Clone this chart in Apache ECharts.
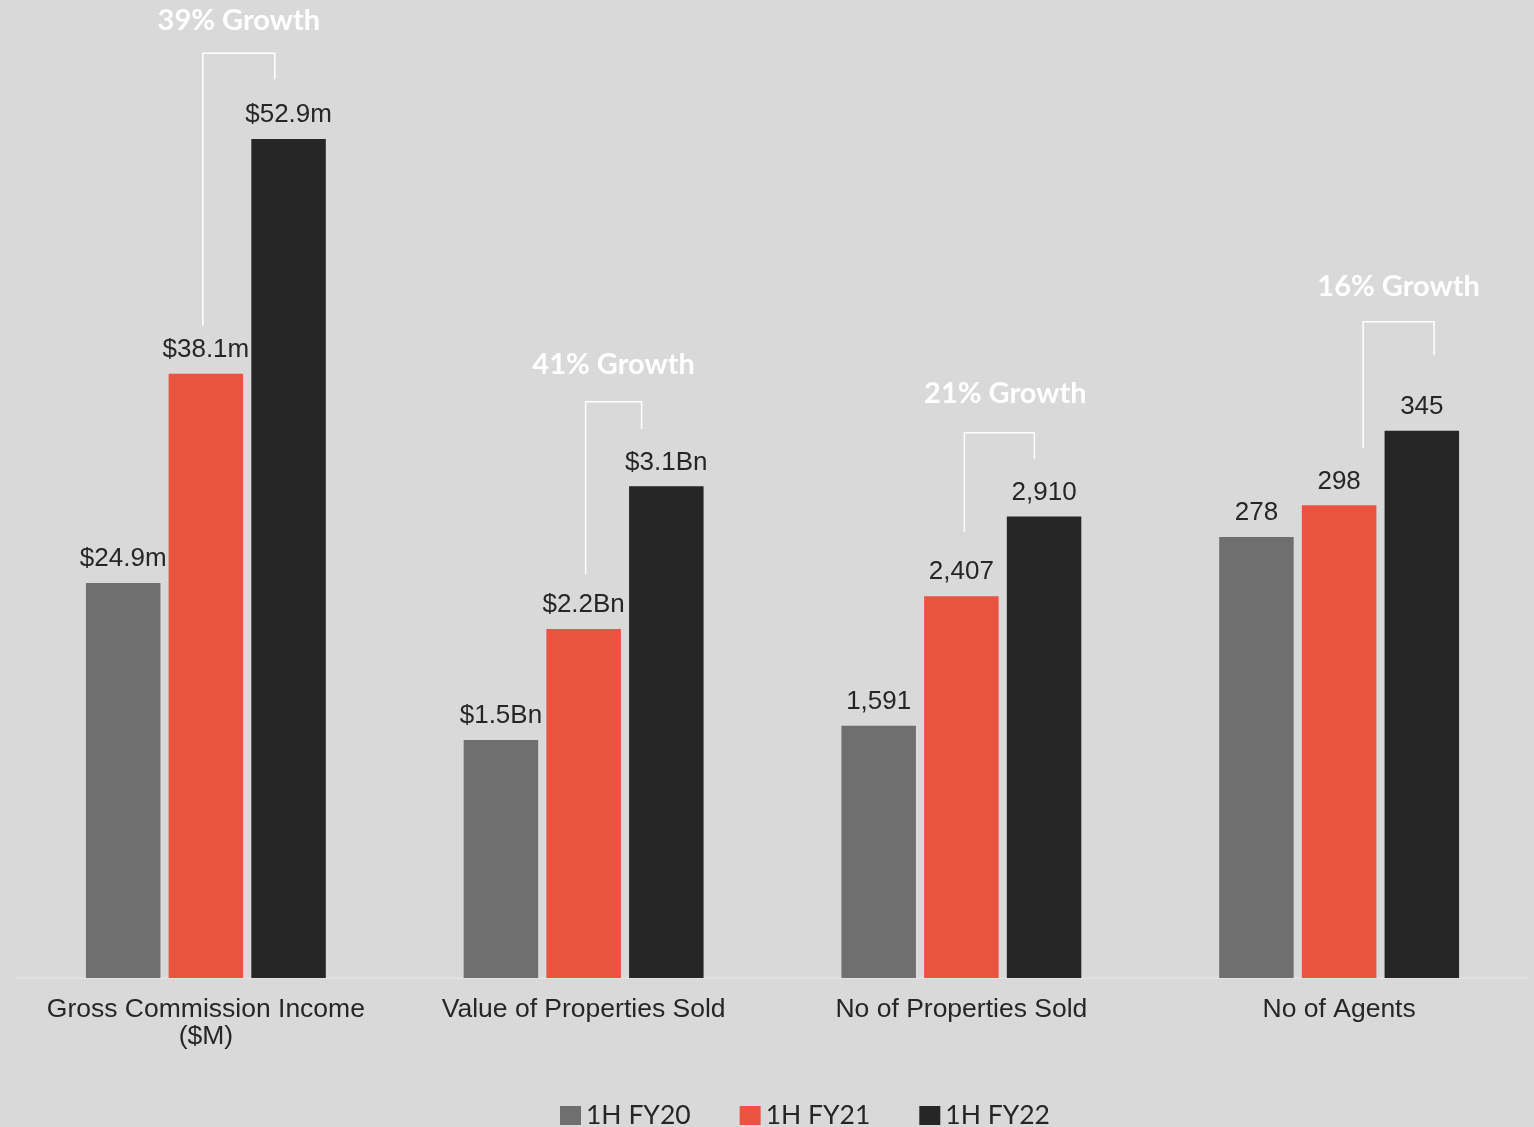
<!DOCTYPE html>
<html>
<head>
<meta charset="utf-8">
<script src="https://cdn.jsdelivr.net/npm/echarts@6/dist/echarts.min.js"></script>
<style>
html,body{margin:0;padding:0;background:#d9d9d9;}
#chart{width:1534px;height:1127px;}
</style>
</head>
<body>
<div id="chart"></div>
<script>
// ---- data ----
var categories = ['Gross Commission Income\n($M)', 'Value of Properties Sold', 'No of Properties Sold', 'No of Agents'];
var seriesNames = ['1H FY20', '1H FY21', '1H FY22'];
var fy20 = [24.9, 1.5, 1591, 278];
var fy21 = [38.1, 2.2, 2407, 298];
var fy22 = [52.9, 3.1, 2910, 345];
var fy20Labels = ['$24.9m', '$1.5Bn', '1,591', '278'];
var fy21Labels = ['$38.1m', '$2.2Bn', '2,407', '298'];
var fy22Labels = ['$52.9m', '$3.1Bn', '2,910', '345'];
// each category is drawn on a shared scale after this unit multiplier
var unitScale = [1, 10, 0.01, 0.1];
var growthLabels = ['39% Growth', '41% Growth', '21% Growth', '16% Growth'];
// bracket levels, in shared-scale units
var bracketTop = [58.3, 36.34, 34.38, 41.38];
var bracketLeftEnd = [41.13, 25.45, 28.14, 33.40];
var bracketRightEnd = [56.66, 34.62, 32.71, 39.26];

// ---- layout / style (not data) ----
var bracketLeftDx = [-3, 2, 3, 24];
var bracketRightDx = [69, 58, 73, 95];
var growthTextDx = [0, 0, 6, 0];
var growthTextDy = [-33, -37, -39, -35];
var colors = ['#6f6f70', '#e95340', '#262626'];
var textColor = '#262626';

function scaled(arr) { return arr.map(function (v, i) { return v * unitScale[i]; }); }

var chart = echarts.init(document.getElementById('chart'), null, { renderer: 'canvas' });

function barSeries(name, values, labels, color) {
  return {
    name: name,
    type: 'bar',
    barWidth: 74.5,
    barGap: '11%',
    data: scaled(values),
    itemStyle: { color: color },
    label: {
      show: true,
      position: 'top',
      distance: 11,
      fontFamily: '"Liberation Sans", Arial, sans-serif',
      fontSize: 26,
      color: textColor,
      formatter: function (p) { return labels[p.dataIndex]; }
    }
  };
}

var bracketData = categories.map(function (c, i) {
  return [i, bracketTop[i], bracketLeftEnd[i], bracketRightEnd[i]];
});

var option = {
  backgroundColor: '#d9d9d9',
  animation: false,
  grid: { left: 17, right: 6, top: 26.4, bottom: 149, containLabel: false },
  legend: {
    data: seriesNames,
    left: 555,
    top: 1097,
    icon: 'rect',
    itemWidth: 21,
    itemHeight: 19,
    itemGap: 49,
    textStyle: { fontFamily: 'Lato, "Open Sans", sans-serif', fontSize: 26.5, color: textColor }
  },
  xAxis: {
    type: 'category',
    data: categories,
    axisTick: { show: false },
    axisLine: { show: true, lineStyle: { color: '#e3e3e3', width: 1.5 } },
    axisLabel: {
      margin: 18,
      fontFamily: '"Liberation Sans", Arial, sans-serif',
      fontSize: 26.5,
      lineHeight: 27,
      color: textColor,
      interval: 0
    }
  },
  yAxis: {
    type: 'value',
    min: 0,
    max: 60,
    show: false,
    splitLine: { show: false }
  },
  series: [
    barSeries(seriesNames[0], fy20, fy20Labels, colors[0]),
    barSeries(seriesNames[1], fy21, fy21Labels, colors[1]),
    barSeries(seriesNames[2], fy22, fy22Labels, colors[2]),
    {
      type: 'custom',
      name: 'growth',
      silent: true,
      clip: false,
      data: bracketData,
      renderItem: function (params, api) {
        var i = api.value(0);
        var center = api.coord([i, 0])[0];
        var yTop = api.coord([i, api.value(1)])[1];
        var yL = api.coord([i, api.value(2)])[1];
        var yR = api.coord([i, api.value(3)])[1];
        var xL = center + bracketLeftDx[i];
        var xR = center + bracketRightDx[i];
        return {
          type: 'group',
          children: [
            {
              type: 'polyline',
              shape: { points: [[xL, yL], [xL, yTop], [xR, yTop], [xR, yR]] },
              style: { stroke: '#ffffff', lineWidth: 1.5, fill: null }
            },
            {
              type: 'text',
              style: {
                x: (xL + xR) / 2 + growthTextDx[i],
                y: yTop + growthTextDy[i],
                text: growthLabels[i],
                fill: '#ffffff',
                font: 'bold 29px Lato, "Open Sans", sans-serif',
                textAlign: 'center',
                textVerticalAlign: 'middle'
              }
            }
          ]
        };
      }
    }
  ]
};
chart.setOption(option);
</script>
</body>
</html>
